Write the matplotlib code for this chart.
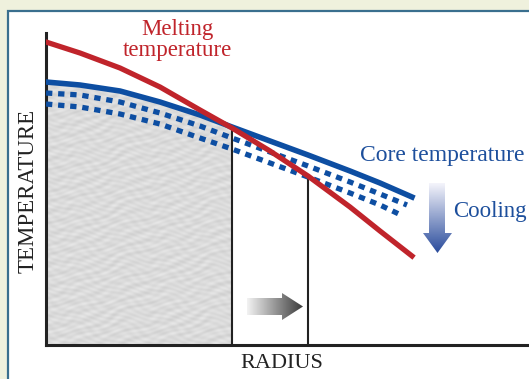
import numpy as np
import matplotlib
matplotlib.use('Agg')
import matplotlib.pyplot as plt
from matplotlib.patches import Rectangle, Polygon

# Данные (условные единицы: радиус и температура)
radius = [0, 34, 74, 114, 154, 186, 224, 262, 304, 334, 366]
melting_temp = [303, 292, 277, 258, 235, 217, 194, 169, 138, 114, 89]
core_temp = [263, 260, 254, 243, 230, 218, 204, 190, 174, 162, 148]

radius_cool1 = [0, 34, 74, 114, 154, 186, 224, 262, 304, 334, 361]
core_temp_cool1 = [252, 250, 243, 232, 219, 207, 193, 179, 163, 151, 140]
radius_cool2 = [0, 34, 74, 114, 154, 186, 224, 262, 304, 334, 357]
core_temp_cool2 = [241, 238, 231, 221, 207, 196, 182, 168, 152, 140, 129]

inner_core_radius = 186
new_inner_core_radius = 262

W, H = 529, 379
RED = '#c0242b'
BLUE = '#0d4ea2'
TEXT_BLUE = '#1d4f9c'
FONT = 'Liberation Serif'

fig = plt.figure(figsize=(W / 100, H / 100), dpi=100)
fig.patch.set_facecolor('#eff1dd')

# Фоновая ось в пикселях: панель, стрелки, подписи
bg = fig.add_axes([0, 0, 1, 1])
bg.set_xlim(0, W)
bg.set_ylim(H, 0)
bg.axis('off')
bg.add_patch(Rectangle((8, 11), 540, 400, facecolor='white', edgecolor='#3a6f8e', lw=1.6, zorder=0))

# Основная ось графика
ax = fig.add_axes([46 / W, (H - 345) / H, (W - 46) / W, 312 / H])
ax.set_xlim(0, 483)
ax.set_ylim(0, 312)
ax.patch.set_alpha(0)
for s in ['top', 'right']:
    ax.spines[s].set_visible(False)
for s in ['left', 'bottom']:
    ax.spines[s].set_color('#222222')
    ax.spines[s].set_linewidth(2.2)
ax.set_xticks([])
ax.set_yticks([])

# Внутреннее ядро: заливка с фактурой
n_in = radius.index(inner_core_radius) + 1
poly = ax.fill_between(radius[:n_in], 0, core_temp[:n_in], facecolor='none', edgecolor='none')
yy, xx = np.mgrid[0:300, 0:200]
tex = np.sin(xx * 0.35 + 2.2 * np.sin(yy * 0.23)) * np.cos(yy * 0.95 + 1.3 * np.sin(xx * 0.13))
tex += 0.6 * np.sin(xx * 0.21 - yy * 0.6 + 1.7 * np.cos(xx * 0.07))
tex = tex / np.abs(tex).max()
g = 0.86 + 0.045 * tex
rgb = np.dstack([g, g, g])
img = ax.imshow(rgb, extent=[0, inner_core_radius, 0, 300],
                aspect='auto', origin='lower', zorder=1, interpolation='bilinear')
img.set_clip_path(poly.get_paths()[0], transform=ax.transData)

# Границы ядра
ax.plot([inner_core_radius] * 2, [0, np.interp(inner_core_radius, radius, melting_temp)],
        color='#222222', lw=1.5, zorder=2)
ax.plot([new_inner_core_radius] * 2, [0, np.interp(new_inner_core_radius, radius, melting_temp)],
        color='#222222', lw=1.5, zorder=2)

# Кривые
ax.plot(radius_cool1, core_temp_cool1, color=BLUE, lw=3.8, ls=(0, (1.2, 1.1)),
        dash_capstyle='butt', zorder=3)
ax.plot(radius_cool2, core_temp_cool2, color=BLUE, lw=3.8, ls=(0, (1.2, 1.1)),
        dash_capstyle='butt', zorder=3)
ax.plot(radius, core_temp, color=BLUE, lw=4, solid_joinstyle='round', zorder=4)
ax.plot(radius, melting_temp, color=RED, lw=3.8, solid_joinstyle='round', zorder=5)

# Стрелка «Cooling» с градиентом
cool_arrow = Polygon([(429, 183), (445, 183), (445, 233), (452, 233), (437.5, 253),
                      (423, 233), (429, 233)], closed=True, facecolor='none', edgecolor='none')
bg.add_patch(cool_arrow)
cmap_cool = matplotlib.colors.LinearSegmentedColormap.from_list('c', ['#f4f4fb', '#2a4c9c'])
grad = np.linspace(0, 1, 100).reshape(-1, 1)
im1 = bg.imshow(grad, cmap=cmap_cool, extent=[423, 452, 253, 183], aspect='auto',
                origin='upper', zorder=2)
im1.set_clip_path(cool_arrow)

# Серая стрелка роста ядра
grow_arrow = Polygon([(247, 298), (282, 298), (282, 293), (303, 306.5), (282, 320),
                      (282, 315), (247, 315)], closed=True, facecolor='none', edgecolor='none')
bg.add_patch(grow_arrow)
cmap_grow = matplotlib.colors.LinearSegmentedColormap.from_list('g', ['#f2f2f2', '#3c3c3c'])
grad2 = np.linspace(0, 1, 100).reshape(1, -1)
im2 = bg.imshow(grad2, cmap=cmap_grow, extent=[247, 303, 320, 293], aspect='auto',
                origin='upper', zorder=2)
im2.set_clip_path(grow_arrow)

bg.set_xlim(0, W)
bg.set_ylim(H, 0)

# Подписи
bg.text(177, 40, 'Melting\ntemperature', color=RED, fontsize=16.5, family=FONT,
        ha='center', va='center', linespacing=0.95)
bg.text(360, 155, 'Core temperature', color=TEXT_BLUE, fontsize=17, family=FONT,
        ha='left', va='center')
bg.text(453, 211, 'Cooling', color=TEXT_BLUE, fontsize=16.5, family=FONT,
        ha='left', va='center')
bg.text(139, 229, 'Inner\ncore', color='#222222', fontsize=16.5, family=FONT,
        ha='center', va='center', linespacing=0.95)
bg.text(28, 191, 'TEMPERATURE', color='#222222', fontsize=16.5, family=FONT,
        ha='center', va='center', rotation=90)
bg.text(282, 364, 'RADIUS', color='#222222', fontsize=16, family=FONT,
        ha='center', va='center')

fig.savefig('out.png', dpi=100)
